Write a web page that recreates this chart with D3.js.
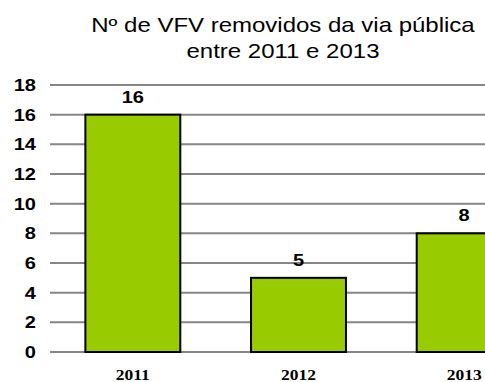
<!DOCTYPE html>
<html>
<head>
<meta charset="utf-8">
<script src="https://cdn.jsdelivr.net/npm/d3@7/dist/d3.min.js"></script>
<style>
  html, body { margin: 0; padding: 0; background: #fff; overflow: hidden; }
  svg { display: block; }
</style>
</head>
<body>
<svg id="chart" width="485" height="382"></svg>
<script>
// Vehicles removed from public roads, per year
const years = ["2011", "2012", "2013"];
const removed = [16, 5, 8];
const yTicks = [0, 2, 4, 6, 8, 10, 12, 14, 16, 18];
const titleLines = ["Nº de VFV removidos da via pública", "entre 2011 e 2013"];

const sans = "'Liberation Sans', Arial, sans-serif";
const serif = "'Liberation Serif', 'Times New Roman', serif";

const svg = d3.select("#chart");

const x = d3.scaleBand()
  .domain(years)
  .range([50, 547])
  .paddingInner(0.427)
  .paddingOuter(0.2135);

const y = d3.scaleLinear()
  .domain([0, 18])
  .range([352, 85]);

// horizontally widened text
function stretched(sel, sx) {
  sel.attr("transform", function () {
    const t = d3.select(this);
    return `translate(${t.attr("data-x")},${t.attr("data-y")}) scale(${sx},1)`;
  });
}

// Title
svg.append("g")
  .selectAll("text")
  .data(titleLines)
  .join("text")
  .attr("data-x", 283)
  .attr("data-y", (d, i) => 32 + i * 26)
  .attr("text-anchor", "middle")
  .style("font-family", sans)
  .attr("font-size", 20)
  .attr("fill", "#000")
  .text(d => d)
  .call(stretched, 1.2);

// Gridlines
svg.append("g")
  .selectAll("line")
  .data(yTicks)
  .join("line")
  .attr("x1", 50)
  .attr("x2", 560)
  .attr("y1", d => y(d))
  .attr("y2", d => y(d))
  .attr("stroke", "#868686")
  .attr("stroke-width", 2);

// Y tick labels
svg.append("g")
  .selectAll("text")
  .data(yTicks)
  .join("text")
  .attr("data-x", 36)
  .attr("data-y", d => y(d) + 6)
  .attr("text-anchor", "end")
  .style("font-family", sans)
  .attr("font-weight", "bold")
  .attr("font-size", 16)
  .attr("fill", "#000")
  .text(d => d)
  .call(stretched, 1.25);

// Bars
svg.append("g")
  .selectAll("rect")
  .data(years.map((yr, i) => ({ yr, v: removed[i] })))
  .join("rect")
  .attr("x", d => x(d.yr))
  .attr("width", x.bandwidth())
  .attr("y", d => y(d.v))
  .attr("height", d => y(0) - y(d.v))
  .attr("fill", "#99CC00")
  .attr("stroke", "#000")
  .attr("stroke-width", 2);

// Value labels
svg.append("g")
  .selectAll("text")
  .data(years.map((yr, i) => ({ yr, v: removed[i] })))
  .join("text")
  .attr("data-x", d => x(d.yr) + x.bandwidth() / 2)
  .attr("data-y", d => y(d.v) - 12)
  .attr("text-anchor", "middle")
  .style("font-family", sans)
  .attr("font-weight", "bold")
  .attr("font-size", 16)
  .attr("fill", "#000")
  .text(d => d.v)
  .call(stretched, 1.25);

// Category labels
svg.append("g")
  .selectAll("text")
  .data(years)
  .join("text")
  .attr("data-x", d => x(d) + x.bandwidth() / 2)
  .attr("data-y", 380)
  .attr("text-anchor", "middle")
  .style("font-family", serif)
  .attr("font-weight", "bold")
  .attr("font-size", 14)
  .attr("fill", "#000")
  .text(d => d)
  .call(stretched, 1.25);
</script>
</body>
</html>
